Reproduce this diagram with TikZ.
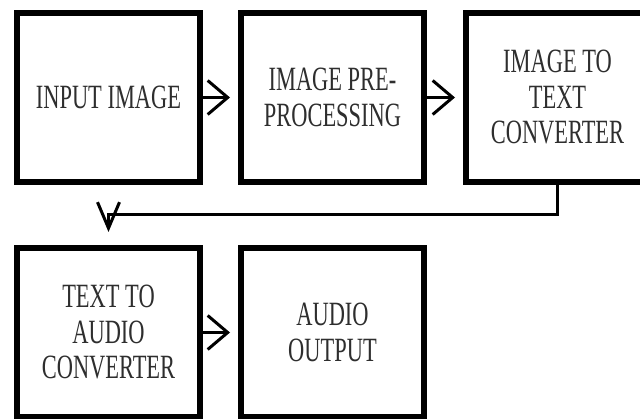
\documentclass[tikz,border=0pt]{standalone}
\usepackage{fontspec}
\newfontfamily\narrowfont[FakeStretch=0.66]{Liberation Serif}
\usetikzlibrary{arrows.meta}
\definecolor{txt}{HTML}{2E2E2E}
\begin{document}
\begin{tikzpicture}[x=1pt,y=-1pt,
  blockbox/.style={draw=black,line width=6pt,minimum width=183pt,minimum height=169pt,
    inner sep=0pt,align=center,text=txt,font=\narrowfont\fontsize{34}{35.5}\selectfont},
  flowarrow/.style={line width=3pt,-{Straight Barb[length=20pt,width=34pt]},shorten >=8pt},
  downarrow/.style={line width=3pt,-{Straight Barb[length=26pt,width=22pt]},shorten >=13pt}]
\path[use as bounding box,clip] (0,0) rectangle (640,419);
\fill[white] (0,0) rectangle (640,419);
\node[blockbox] (b1) at (108.5,97.5) {INPUT IMAGE};
\node[blockbox] (b2) at (332.5,97.5) {IMAGE PRE-\\PROCESSING};
\node[blockbox] (b3) at (557.5,97.5) {IMAGE TO\\TEXT\\CONVERTER};
\node[blockbox] (b4) at (108.5,332.5) {TEXT TO\\AUDIO\\CONVERTER};
\node[blockbox] (b5) at (332.5,332.5) {AUDIO\\OUTPUT};
\draw[flowarrow] (b1.east) -- (b2.west);
\draw[flowarrow] (b2.east) -- (b3.west);
\draw[flowarrow] (b4.east) -- (b5.west);
\draw[downarrow] (b3.south) -- ++(0,30) -| (b4.north);
\end{tikzpicture}
\end{document}
